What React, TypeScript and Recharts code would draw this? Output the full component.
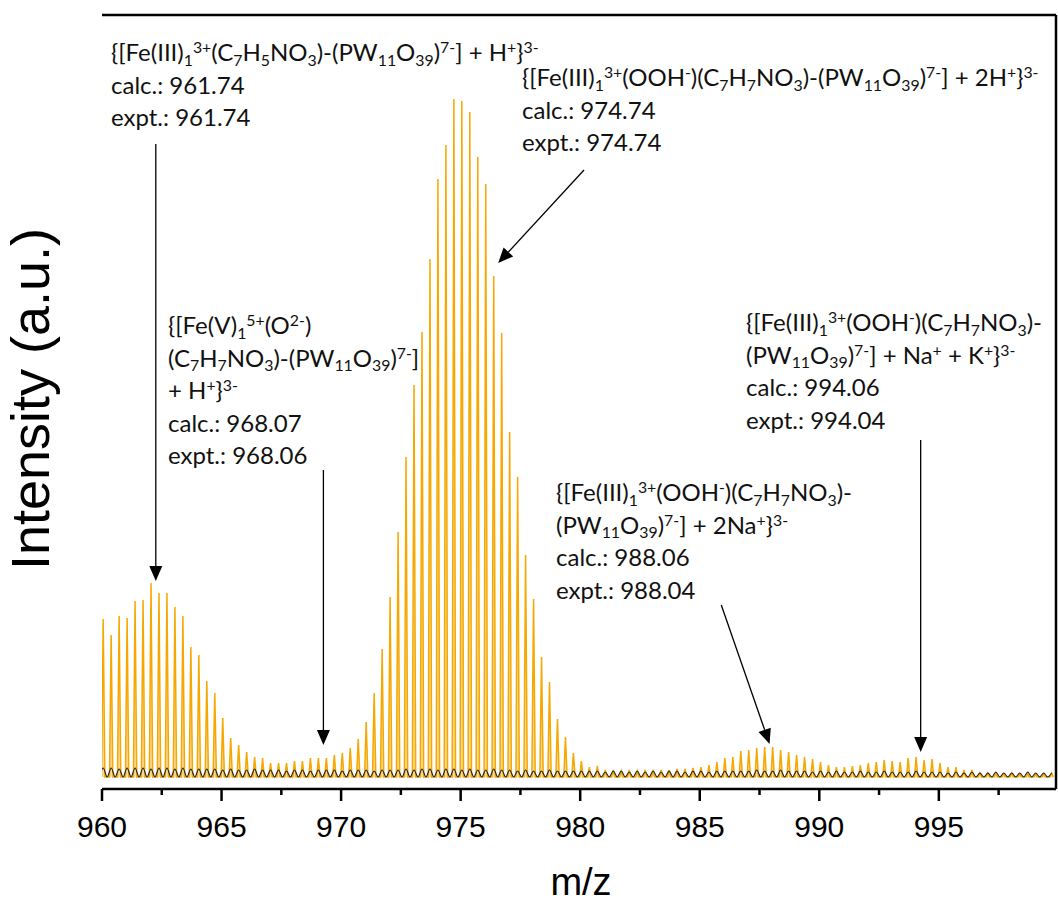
import React from "react"
import { ComposedChart, Area, Line, XAxis, YAxis, ReferenceLine } from "recharts"

// isotope envelope, z = 3- so peaks are 1/3 m/z apart
const PEAK_START = 960.05
const ISOTOPE_STEP = 1 / 3

// orange: measured spectrum, one height per isotope peak (a.u.)
const orangePeaks = [
  158, 142, 161, 159, 176, 177, 194, 184, 184, 170,
  161, 130, 122, 96, 84, 59, 39, 32, 25, 20,
  19, 14, 14, 14, 16, 16, 19, 19, 19, 22,
  24, 29, 38, 55, 84, 128, 180, 245, 320, 392,
  445, 518, 598, 632, 678, 676, 665, 620, 593, 501,
  444, 345, 300, 222, 178, 120, 95, 58, 40, 24,
  16, 10, 11, 7, 7, 6, 7, 6, 7, 6,
  7, 7, 8, 8, 9, 10, 12, 15, 19, 20,
  26, 27, 29, 30, 30, 27, 25, 22, 20, 18,
  15, 12, 10, 10, 11, 12, 14, 15, 17, 16,
  15, 19, 20, 17, 18, 14, 10, 10, 7, 7,
  4, 4, 4, 3, 4, 3, 4, 3, 3, 4,
]

// black: baseline trace
const blackPeaks = [
  9, 9, 8, 9, 9, 9, 8, 9, 9, 8, 9, 8, 8, 8, 8, 7, 8, 7, 7, 8,
  7, 7, 7, 6, 7, 7, 6, 7, 7, 7, 6, 7, 7, 7, 6, 7, 7, 7, 8, 7,
  8, 8, 7, 8, 8, 7, 8, 7, 7, 8, 7, 7, 6, 7, 6, 6, 7, 6, 6, 6,
  6, 6, 6, 5, 6, 6, 5, 6, 5, 6, 5, 6, 6, 5, 6, 6, 5, 6, 6, 6,
  6, 6, 7, 6, 6, 7, 6, 6, 6, 5, 6, 5, 6, 5, 5, 6, 5, 5, 6, 5,
  5, 5, 6, 5, 5, 5, 4, 5, 4, 5, 4, 4, 5, 4, 4, 4, 5, 4, 4, 4,
]

const majorTicks = [960, 965, 970, 975, 980, 985, 990, 995]
const minorTicks = [962.5, 967.5, 972.5, 977.5, 982.5, 987.5, 992.5, 997.5]
const tickLabels = ["960", "965", "970", "975", "980", "985", "990", "995"]

const X_MIN = 960
const X_MAX = 999.9
const Y_MIN = -12
const Y_MAX = 762

const orangeLine = orangePeaks.flatMap((h, i) => {
  const mz = PEAK_START + i * ISOTOPE_STEP
  return [
    { mz: mz - 0.07, y: 0 },
    { mz, y: h },
    { mz: mz + 0.07, y: 0 },
  ]
})

const blackLine = blackPeaks.flatMap((h, i) => {
  const mz = PEAK_START + i * ISOTOPE_STEP
  return [
    { mz: mz - ISOTOPE_STEP / 2, y: 0 },
    { mz, y: h },
  ]
})

const ORANGE = "#F6A800"
const annFont = "Lato, 'Open Sans', sans-serif"
const axisFont = "'Liberation Sans', Arial, sans-serif"

const Sb = ({ children }: { children: React.ReactNode }) => (
  <span style={{ fontSize: "0.66em", position: "relative", top: "0.3em", lineHeight: 0 }}>{children}</span>
)
const Sp = ({ children }: { children: React.ReactNode }) => (
  <span style={{ fontSize: "0.66em", position: "relative", top: "-0.5em", lineHeight: 0 }}>{children}</span>
)

const FeIII = (
  <>
    {"{[Fe(III)"}
    <Sb>1</Sb>
    <Sp>3+</Sp>
  </>
)
const PW = (
  <>
    (PW<Sb>11</Sb>O<Sb>39</Sb>)<Sp>7-</Sp>]
  </>
)
const L7H7 = (
  <>
    (C<Sb>7</Sb>H<Sb>7</Sb>NO<Sb>3</Sb>)
  </>
)

const annotations = [
  {
    left: 111, top: 36,
    lines: [
      <>{FeIII}(C<Sb>7</Sb>H<Sb>5</Sb>NO<Sb>3</Sb>)-{PW} + H<Sp>+</Sp>{"}"}<Sp>3-</Sp></>,
      "calc.: 961.74",
      "expt.: 961.74",
    ],
  },
  {
    left: 522, top: 61,
    lines: [
      <>{FeIII}(OOH<Sp>-</Sp>){L7H7}-{PW} + 2H<Sp>+</Sp>{"}"}<Sp>3-</Sp></>,
      "calc.: 974.74",
      "expt.: 974.74",
    ],
  },
  {
    left: 168, top: 309,
    lines: [
      <>{"{[Fe(V)"}<Sb>1</Sb><Sp>5+</Sp>(O<Sp>2-</Sp>)</>,
      <>{L7H7}-{PW}</>,
      <>+ H<Sp>+</Sp>{"}"}<Sp>3-</Sp></>,
      "calc.: 968.07",
      "expt.: 968.06",
    ],
  },
  {
    left: 556, top: 476,
    lines: [
      <>{FeIII}(OOH<Sp>-</Sp>){L7H7}-</>,
      <>{PW} + 2Na<Sp>+</Sp>{"}"}<Sp>3-</Sp></>,
      "calc.: 988.06",
      "expt.: 988.04",
    ],
  },
  {
    left: 746, top: 306,
    lines: [
      <>{FeIII}(OOH<Sp>-</Sp>){L7H7}-</>,
      <>{PW} + Na<Sp>+</Sp> + K<Sp>+</Sp>{"}"}<Sp>3-</Sp></>,
      "calc.: 994.06",
      "expt.: 994.04",
    ],
  },
]

// arrows: start and tip in data units
const arrows = [
  [{ x: 962.25, y: 633 }, { x: 962.25, y: 196 }],
  [{ x: 980.16, y: 607 }, { x: 976.57, y: 514 }],
  [{ x: 969.26, y: 307 }, { x: 969.26, y: 32 }],
  [{ x: 985.9, y: 172 }, { x: 987.92, y: 33 }],
  [{ x: 994.24, y: 337 }, { x: 994.24, y: 25 }],
]

const ArrowShape = (props: any) => {
  const { x1, y1, x2, y2 } = props
  const dx = x2 - x1
  const dy = y2 - y1
  const len = Math.sqrt(dx * dx + dy * dy) || 1
  const ux = dx / len
  const uy = dy / len
  const bx = x2 - ux * 15
  const by = y2 - uy * 15
  const nx = -uy * 6.5
  const ny = ux * 6.5
  return (
    <g>
      <line x1={x1} y1={y1} x2={bx} y2={by} stroke="#000" strokeWidth={1.3} />
      <polygon points={`${x2},${y2} ${bx + nx},${by + ny} ${bx - nx},${by - ny}`} fill="#000" />
    </g>
  )
}

const XTick = (props: any) => {
  const { x, y, payload } = props
  const idx = majorTicks.indexOf(payload.value)
  const major = idx >= 0
  return (
    <g>
      <line x1={x} x2={x} y1={y} y2={y + (major ? 12 : 6)} stroke="#000" strokeWidth={2.5} />
      {major && (
        <text x={x} y={y + 48} textAnchor="middle" fontSize={30} fontFamily={axisFont} fill="#000">
          {tickLabels[idx]}
        </text>
      )}
    </g>
  )
}

const axisLine = { stroke: "#000", strokeWidth: 2.5 }

export default function App() {
  return (
    <div style={{ position: "absolute", left: 0, top: 0, width: 1058, height: 902, background: "#fff" }}>
      <ComposedChart width={1058} height={902} margin={{ top: 15, right: 2, left: 102, bottom: 0 }}>
        <XAxis
          dataKey="mz"
          type="number"
          domain={[X_MIN, X_MAX]}
          allowDataOverflow
          ticks={[...majorTicks, ...minorTicks].sort((a, b) => a - b)}
          tick={<XTick />}
          tickLine={false}
          tickSize={0}
          tickMargin={0}
          height={113}
          axisLine={axisLine}
        />
        <YAxis type="number" domain={[Y_MIN, Y_MAX]} allowDataOverflow width={0} tick={false} tickLine={false} axisLine={axisLine} />
        <Area
          data={orangeLine}
          dataKey="y"
          type="linear"
          baseValue={0}
          stroke={ORANGE}
          strokeWidth={1.5}
          fill="#F8CB6E"
          fillOpacity={0.7}
          dot={false}
          activeDot={false}
          isAnimationActive={false}
        />
        <Line
          data={blackLine}
          dataKey="y"
          type="monotone"
          stroke="#222"
          strokeWidth={1.1}
          dot={false}
          activeDot={false}
          isAnimationActive={false}
        />
        <ReferenceLine y={Y_MAX} stroke="#000" strokeWidth={2.5} ifOverflow="visible" />
        <ReferenceLine x={X_MAX} stroke="#000" strokeWidth={2.5} ifOverflow="visible" />
        {arrows.map((seg, i) => (
          <ReferenceLine key={i} segment={seg} shape={<ArrowShape />} ifOverflow="visible" />
        ))}
      </ComposedChart>
      {annotations.map((a, i) => (
        <div
          key={i}
          style={{
            position: "absolute",
            left: a.left,
            top: a.top,
            fontFamily: annFont,
            fontSize: 24,
            lineHeight: "32.5px",
            whiteSpace: "nowrap",
            color: "#111",
          }}
        >
          {a.lines.map((l, j) => (
            <div key={j}>{l}</div>
          ))}
        </div>
      ))}
      <div
        style={{
          position: "absolute",
          left: 581,
          top: 882,
          transform: "translate(-50%, -50%)",
          fontFamily: axisFont,
          fontSize: 38,
          whiteSpace: "nowrap",
        }}
      >
        m/z
      </div>
      <div
        style={{
          position: "absolute",
          left: 30,
          top: 399,
          transform: "translate(-50%, -50%) rotate(-90deg)",
          fontFamily: axisFont,
          fontSize: 54,
          whiteSpace: "nowrap",
        }}
      >
        Intensity (a.u.)
      </div>
    </div>
  )
}
